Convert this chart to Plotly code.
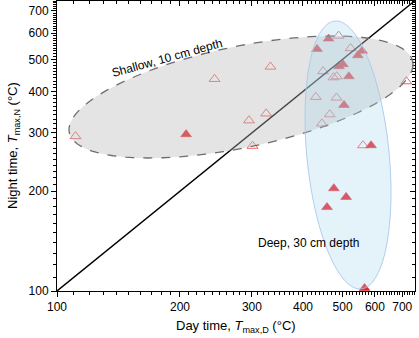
import numpy as np
import plotly.graph_objects as go

# ---- data ----
open_day = [111, 243, 333, 295, 325, 301, 716, 489, 523, 448, 475, 484, 430, 483, 465, 445, 561]
open_night = [293, 436, 475, 327, 343, 274, 429, 589, 540, 460, 441, 444, 385, 383, 341, 320, 275]
filled_day = [207, 462, 433, 558, 545, 490, 501, 518, 504, 587, 476, 510, 458, 566]
filled_night = [297, 577, 537, 530, 514, 476, 483, 444, 364, 275, 204, 192, 179, 102]
line_vals = [100, 752]
major_ticks = [100, 200, 300, 400, 500, 600, 700]
tick_labels = ["100", "200", "300", "400", "500", "600", "700"]
minor_ticks = [v for v in range(110, 751, 10) if v not in major_ticks]

W, H = 419, 338
L, R, T, B = 57, 4, 1, 47
PW, PH = W - L - R, H - T - B
xr = [2, np.log10(752)]
yr = [2, np.log10(750)]
FONT = "Liberation Sans, Arial, sans-serif"


def ellipse_path(cx, cy, sxx, sxy, syy, n=120):
    # ellipse given in pixel space (y down), converted to paper coords
    l11 = np.sqrt(sxx)
    l21 = sxy / l11
    l22 = np.sqrt(syy - l21 ** 2)
    t = np.linspace(0, 2 * np.pi, n, endpoint=False)
    px = cx + l11 * np.cos(t)
    py = cy + l21 * np.cos(t) + l22 * np.sin(t)
    fx = (px - L) / PW
    fy = (H - B - py) / PH
    pts = [f"{a:.5f},{b:.5f}" for a, b in zip(fx, fy)]
    return "M" + " L".join(pts) + " Z"


fig = go.Figure()

fig.add_trace(go.Scatter(
    x=line_vals, y=line_vals, mode="lines", xaxis="x2", yaxis="y2",
    line=dict(color="black", width=1.4), showlegend=False, hoverinfo="skip"))

fig.add_trace(go.Scatter(
    x=open_day, y=open_night, mode="markers", showlegend=False,
    marker=dict(symbol="triangle-up-open", size=9.5, color="#e8696c",
                line=dict(width=1, color="#e8696c"))))

fig.add_trace(go.Scatter(
    x=filled_day, y=filled_night, mode="markers", showlegend=False,
    marker=dict(symbol="triangle-up", size=9.5, color="#e8262b",
                line=dict(width=0.5, color="#e8262b"))))

shapes = [
    dict(type="path", xref="paper", yref="paper", layer="above",
         path=ellipse_path(241, 97, 29584, -5612, 3721),
         fillcolor="rgba(185,185,185,0.38)",
         line=dict(color="#6e6e6e", width=1.3, dash="dash")),
    dict(type="path", xref="paper", yref="paper", layer="above",
         path=ellipse_path(348, 155, 1849, 1608, 17956),
         fillcolor="rgba(165,212,240,0.3)",
         line=dict(color="rgba(170,200,235,0.9)", width=1)),
]


def axis(side_ticks, labels, overlay=None, side=None, anchor=None, rng=None):
    d = dict(
        type="log", range=rng, showline=True, linecolor="black", linewidth=1,
        showgrid=False, zeroline=False, tickmode="array",
        tickvals=major_ticks, ticktext=tick_labels, ticks=side_ticks,
        ticklen=5, tickwidth=1, tickcolor="black",
        showticklabels=labels,
        minor=dict(tickmode="array", tickvals=minor_ticks, ticks=side_ticks,
                   ticklen=3, tickwidth=1, tickcolor="black", showgrid=False),
        tickfont=dict(family=FONT, size=12, color="black"),
    )
    if overlay:
        d.update(overlaying=overlay, side=side, anchor=anchor)
    return d


fig.update_layout(
    width=W, height=H,
    margin=dict(l=L, r=R, t=T, b=B, pad=0, autoexpand=False),
    paper_bgcolor="white", plot_bgcolor="white",
    font=dict(family=FONT, size=12, color="black"),
    xaxis=axis("outside", True, rng=xr),
    yaxis=axis("outside", True, rng=yr),
    xaxis2=axis("inside", False, overlay="x", side="top", anchor="y2", rng=xr),
    yaxis2=axis("inside", False, overlay="y", side="right", anchor="x2", rng=yr),
    shapes=shapes,
    annotations=[
        dict(text="Shallow, 10 cm depth", xref="paper", yref="paper",
             x=(167 - L) / PW, y=(H - B - 58) / PH, showarrow=False,
             textangle=-15.5, font=dict(size=12, color="black"),
             xanchor="center", yanchor="middle"),
        dict(text="Deep, 30 cm depth", xref="paper", yref="paper",
             x=(308 - L) / PW, y=(H - B - 243) / PH, showarrow=False,
             font=dict(size=12, color="black"),
             xanchor="center", yanchor="middle"),
        dict(text="Day time, <i>T</i><sub>max,D</sub> (°C)", xref="paper", yref="paper",
             x=(236 - L) / PW, y=(H - B - 326) / PH, showarrow=False,
             font=dict(size=13, color="black"),
             xanchor="center", yanchor="middle"),
        dict(text="Night time, <i>T</i><sub>max,N</sub> (°C)", xref="paper", yref="paper",
             x=(13 - L) / PW, y=(H - B - 146) / PH, showarrow=False,
             textangle=-90, font=dict(size=13, color="black"),
             xanchor="center", yanchor="middle"),
    ],
)

fig.write_html(
    "out.html",
    config={"displayModeBar": False},
    post_script="document.body.style.margin='0';document.body.style.padding='0';",
)
